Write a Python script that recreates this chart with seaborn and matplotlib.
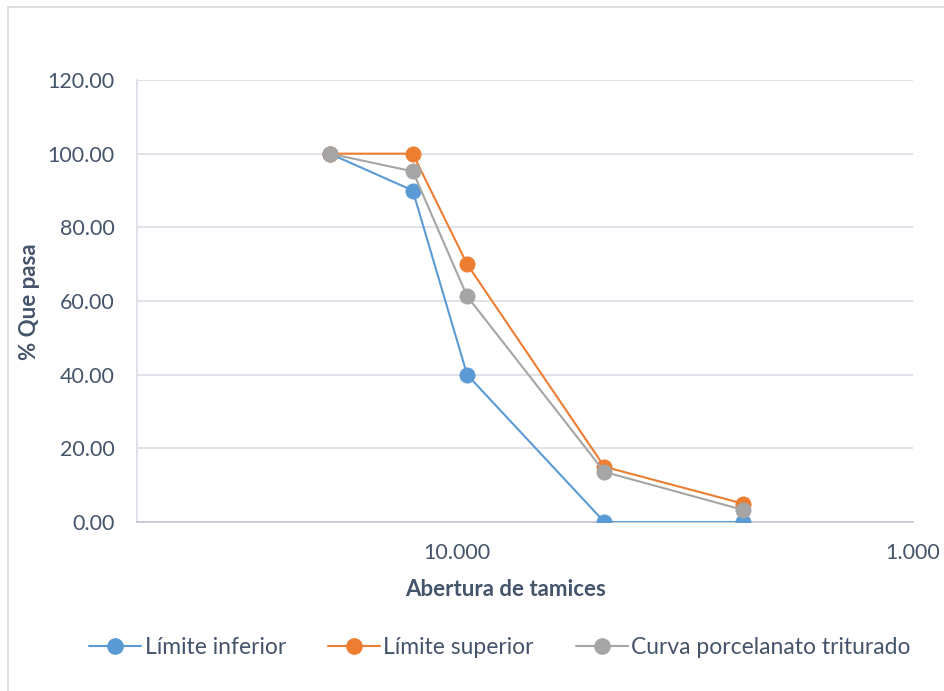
import matplotlib
matplotlib.use("Agg")
import matplotlib.pyplot as plt
from matplotlib.patches import Rectangle
from matplotlib.lines import Line2D
import seaborn as sns
import pandas as pd

# Sieve openings (mm) and percent passing
aberturas = [19.0, 12.5, 9.5, 4.75, 2.36]
limite_inferior = [100.0, 90.0, 40.0, 0.0, 0.0]
limite_superior = [100.0, 100.0, 70.0, 15.0, 5.0]
curva_porcelanato = [100.0, 95.2, 61.3, 13.6, 3.3]

series_names = ["Límite inferior", "Límite superior", "Curva porcelanato triturado"]
series_colors = ["#5B9BD5", "#ED7D31", "#A5A5A5"]
x_ticks = [10, 1]
x_tick_labels = ["10.000", "1.000"]
y_ticks = [0, 20, 40, 60, 80, 100, 120]

sns.set_style("white")
plt.rcParams["font.family"] = ["Lato", "DejaVu Sans"]

text_color = "#44546A"
grid_color = "#D9DEE5"

W, H = 945, 691
fig = plt.figure(figsize=(W / 100, H / 100), dpi=100)
ax = fig.add_axes([137 / W, 1 - 522 / H, (913 - 137) / W, (522 - 80) / H])

df = pd.DataFrame({
    "abertura": aberturas * 3,
    "pasa": limite_inferior + limite_superior + curva_porcelanato,
    "serie": sum([[n] * len(aberturas) for n in series_names], []),
})

for name, color in zip(series_names, series_colors):
    sub = df[df["serie"] == name]
    sns.lineplot(data=sub, x="abertura", y="pasa", ax=ax, color=color,
                 linewidth=1.5, marker="o", markersize=11,
                 markeredgecolor=color, markeredgewidth=0.5,
                 sort=False, legend=False, zorder=3)

ax.set_xscale("log")
ax.set_xlim(50.3, 1)
ax.set_ylim(0, 120)
ax.set_xticks(x_ticks)
ax.set_xticklabels(x_tick_labels)
ax.xaxis.set_minor_locator(matplotlib.ticker.NullLocator())
ax.set_yticks(y_ticks)
ax.set_yticklabels([f"{v:.2f}" for v in y_ticks])

ax.yaxis.grid(True, color=grid_color, linewidth=1.2)
ax.xaxis.grid(False)
ax.set_axisbelow(True)
ax.tick_params(axis="both", length=0, labelsize=15.5, labelcolor=text_color)
ax.tick_params(axis="x", pad=15)
ax.tick_params(axis="y", pad=16)

for side in ["top", "right"]:
    ax.spines[side].set_visible(False)
ax.spines["left"].set_color(grid_color)
ax.spines["left"].set_linewidth(1.2)
ax.spines["bottom"].set_color("#BFC5CF")
ax.spines["bottom"].set_linewidth(1.2)

ax.set_xlabel("")
ax.set_ylabel("")
fig.text(506 / W, 1 - 590 / H, "Abertura de tamices", ha="center", va="center",
         fontsize=16, fontweight="bold", color=text_color)
fig.text(30 / W, 1 - 302 / H, "% Que pasa", ha="center", va="center",
         rotation=90, fontsize=16, fontweight="bold", color=text_color)

handles = [Line2D([0], [0], color=c, linewidth=1.5, marker="o", markersize=11,
                  markeredgecolor=c) for c in series_colors]
fig.legend(handles, series_names, loc="center", bbox_to_anchor=(500 / W, 1 - 648 / H),
           ncol=3, frameon=False, fontsize=16.5, labelcolor=text_color,
           handlelength=2.27, handletextpad=0.15, columnspacing=1.83)

# Chart-area border
fig.add_artist(Rectangle((8 / W, -0.1), 1.2, 1 - 7 / H + 0.1, transform=fig.transFigure,
                         fill=False, edgecolor="#D9D9D9", linewidth=1.2))

fig.savefig("out.png", dpi=100)
